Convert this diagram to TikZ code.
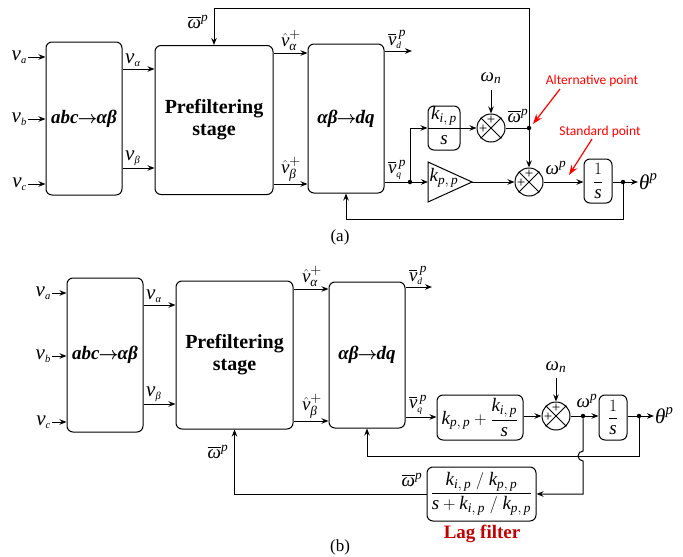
\documentclass[tikz,border=0pt]{standalone}
\usepackage{amsmath}
\usepackage{fontspec}
\setmainfont{Liberation Serif}
\newfontfamily\annfont{Carlito}
\usetikzlibrary{arrows.meta}
\newcommand\Mv{\textit{v}}
\newcommand\Mw{\textit{ω}}
\newcommand\Mth{\textit{θ}}
\newcommand\Mal{\textit{α}}
\newcommand\Mbe{\textit{β}}
\newcommand\Mk{\textit{k}}
\newcommand\Ms{\textit{s}}
\newcommand\Mp{\textit{p}}
\newcommand\Ss[1]{\scriptscriptstyle\textit{#1}}
\newcommand\kip{\Mk_{\textit{i},\,\textit{p}}}
\newcommand\kpp{\Mk_{\textit{p},\,\textit{p}}}
\newcommand\wbar{\overline{\Mw}^{\Mp}}
\newcommand\barr{$\boldsymbol{\rightarrow}$}
\newcommand\abcl{\textbf{\textit{abc}}\kern-1pt\barr\kern-1pt\textbf{\textit{αβ}}}
\newcommand\dql{\textbf{\textit{αβ}}\kern-1pt\barr\kern-1pt\textbf{\textit{dq}}}
\newcommand\pfl{\textbf{Prefiltering}\\\textbf{stage}}
\begin{document}
\begin{tikzpicture}[x=1pt,y=-1pt,
 blk/.style={draw, line width=1pt, rounded corners=6pt, inner sep=0pt},
 sumc/.style={draw, circle, line width=1pt, minimum size=28pt, inner sep=0pt},
 ln/.style={line width=1pt},
 arr/.style={line width=1pt, -{Stealth[length=7pt,width=5.5pt]}},
 lbl/.style={font=\fontsize{19}{21}\selectfont, inner sep=1pt},
 vlbl/.style={font=\fontsize{21}{23}\selectfont, inner sep=1pt},
 big/.style={font=\fontsize{19}{21}\selectfont, align=center},
 dot/.style={circle, fill, inner sep=0pt, minimum size=4.5pt},
 plus/.style={font=\fontsize{15}{15}\selectfont, inner sep=0pt},
 redarr/.style={red, line width=1.2pt, -{Stealth[length=10pt,width=7pt]}},
 redtxt/.style={red, font=\annfont\fontsize{13.5}{15}\selectfont, inner sep=0pt},
 captxt/.style={font=\fontsize{17}{19}\selectfont}]
\useasboundingbox (0,0) rectangle (683,557);

% ================= (a) =================
\node[blk, minimum width=76pt, minimum height=153pt, big] (abcA) at (84,118.5) {\abcl};
\node[blk, minimum width=118pt, minimum height=149pt, big, font=\fontsize{20}{22}\selectfont] (pfA) at (214,120) {\pfl};
\node[blk, minimum width=76pt, minimum height=149pt, big] (dqA) at (346,118.5) {\dql};

\node[vlbl, anchor=east] (vaA) at (28,57) {$\Mv_{\Ss{a}}$};
\node[vlbl, anchor=east] (vbA) at (28,119) {$\Mv_{\Ss{b}}$};
\node[vlbl, anchor=east] (vcA) at (28,184) {$\Mv_{\Ss{c}}$};
\draw[arr] (vaA.east) -- (abcA.west |- vaA.east);
\draw[arr] (vbA.east) -- (abcA.west |- vbA.east);
\draw[arr] (vcA.east) -- (abcA.west |- vcA.east);

\draw[arr] (abcA.east |- 0,69) -- (pfA.west |- 0,69);
\draw[arr] (abcA.east |- 0,168) -- (pfA.west |- 0,168);
\node[vlbl, anchor=south west] at (124,68) {$\Mv_{\Ss{\Mal}}$};
\node[vlbl, anchor=south west] at (124,167) {$\Mv_{\Ss{\Mbe}}$};

\draw[arr] (pfA.east |- 0,53) -- (dqA.west |- 0,53);
\draw[arr] (pfA.east |- 0,184) -- (dqA.west |- 0,184);
\node[lbl, anchor=south] at (291,52) {$\hat{\Mv}^{+}_{\Mal}$};
\node[lbl, anchor=south] at (291,183) {$\hat{\Mv}^{+}_{\Mbe}$};

\coordinate (vdA) at (412,51);
\draw[arr] (dqA.east |- vdA) -- (vdA);
\node[lbl, anchor=south] at (397,50) {$\overline{\Mv}^{\,\Mp}_{\Ss{d}}$};

\node[dot] (jq) at (410,182) {};
\draw[ln] (dqA.east |- jq) -- (jq);
\node[lbl, anchor=south] at (397,181) {$\overline{\Mv}^{\,\Mp}_{\Ss{q}}$};

% ki/s block
\node[blk, minimum width=32pt, minimum height=44pt] (kis) at (444,128) {};
\draw[ln] (kis.west) -- (kis.east);
\node[lbl] at (444,116) {$\kip$};
\node[lbl] at (444,140) {$\Ms$};
\draw[arr] (jq) |- (kis.west);

% gain triangle
\coordinate (triW) at (428,182);
\coordinate (triE) at (472,182);
\draw[ln] (428,162) -- (triE) -- (428,202) -- cycle;
\node[lbl] at (444,178) {$\kpp$};
\draw[arr] (jq) -- (triW);

% sum 1
\node[sumc] (s1) at (491,128) {};
\draw[ln] (s1.north east) -- (s1.south west) (s1.north west) -- (s1.south east);
\node[plus] at (491,120) {+};
\node[plus] at (483,129) {+};
\draw[arr] (kis.east) -- (s1.west);
\node[lbl] (wnA) at (491,78) {$\Mw_{\textit{n}}$};
\draw[arr] (491,90) -- (s1.north);

\node[dot] (jA) at (529,128) {};
\draw[ln] (s1.east) -- (jA);
\node[lbl] at (518,116) {$\wbar$};

\coordinate (topR) at (529,8);
\draw[arr] (jA) -- (topR) -| (pfA.north);
\node[lbl] at (198,22) {$\wbar$};

% sum 2
\node[sumc] (s2) at (529,182) {};
\draw[ln] (s2.north east) -- (s2.south west) (s2.north west) -- (s2.south east);
\node[plus] at (529,174) {+};
\node[plus] at (521,183) {+};
\draw[arr] (jA) -- (s2.north);
\draw[arr] (triE) -- (s2.west);

\node[blk, minimum width=28pt, minimum height=44pt, lbl] (intA) at (598,181) {$\dfrac{1}{\Ms}$};
\draw[arr] (s2.east) -- (intA.west |- s2.east);
\node[lbl] at (556,168) {$\Mw^{\Mp}$};

\node[dot] (jth) at (623,182) {};
\draw[ln] (intA.east |- jth) -- (jth);
\coordinate (thA) at (638,182);
\draw[arr] (jth) -- (thA);
\node[lbl, anchor=west, font=\fontsize{21}{23}\selectfont] at (thA) {$\Mth^{\Mp}$};

\coordinate (fbA) at (623,219);
\draw[arr] (jth) -- (fbA) -| (dqA.south);

% red annotations
\node[redtxt] (altp) at (592,81) {Alternative point};
\node[redtxt] (stdp) at (600,132) {Standard point};
\draw[redarr] (560,89) -- (533,124);
\draw[redarr] (592,139) -- (569,175);

\node[captxt] at (340,237) {(a)};

% ================= (b) =================
\node[blk, minimum width=76pt, minimum height=154pt, big] (abcB) at (105,355) {\abcl};
\node[blk, minimum width=117pt, minimum height=148pt, big, font=\fontsize{20}{22}\selectfont] (pfB) at (234.5,355) {\pfl};
\node[blk, minimum width=76pt, minimum height=146pt, big] (dqB) at (367,355) {\dql};

\node[vlbl, anchor=east] (vaB) at (52,293) {$\Mv_{\Ss{a}}$};
\node[vlbl, anchor=east] (vbB) at (52,356) {$\Mv_{\Ss{b}}$};
\node[vlbl, anchor=east] (vcB) at (52,422) {$\Mv_{\Ss{c}}$};
\draw[arr] (vaB.east) -- (abcB.west |- vaB.east);
\draw[arr] (vbB.east) -- (abcB.west |- vbB.east);
\draw[arr] (vcB.east) -- (abcB.west |- vcB.east);

\draw[arr] (abcB.east |- 0,305) -- (pfB.west |- 0,305);
\draw[arr] (abcB.east |- 0,404) -- (pfB.west |- 0,404);
\node[vlbl, anchor=south west] at (145,304) {$\Mv_{\Ss{\Mal}}$};
\node[vlbl, anchor=south west] at (145,403) {$\Mv_{\Ss{\Mbe}}$};

\draw[arr] (pfB.east |- 0,289) -- (dqB.west |- 0,289);
\draw[arr] (pfB.east |- 0,421) -- (dqB.west |- 0,421);
\node[lbl, anchor=south] at (312,288) {$\hat{\Mv}^{+}_{\Mal}$};
\node[lbl, anchor=south] at (312,420) {$\hat{\Mv}^{+}_{\Mbe}$};

\coordinate (vdB) at (432,287);
\draw[arr] (dqB.east |- vdB) -- (vdB);
\node[lbl, anchor=south] at (418,286) {$\overline{\Mv}^{\,\Mp}_{\Ss{d}}$};

\node[blk, minimum width=86pt, minimum height=45pt, lbl] (pi) at (480,417.5) {$\kpp+\dfrac{\kip}{\Ms}$};
\draw[arr] (dqB.east |- 0,417) -- (pi.west |- 0,417);
\node[lbl, anchor=south] at (418,416) {$\overline{\Mv}^{\,\Mp}_{\Ss{q}}$};

\node[sumc] (s3) at (556,416) {};
\draw[ln] (s3.north east) -- (s3.south west) (s3.north west) -- (s3.south east);
\node[plus] at (556,408) {+};
\node[plus] at (548,417) {+};
\draw[arr] (pi.east |- s3.west) -- (s3.west);
\node[lbl] at (556,367) {$\Mw_{\textit{n}}$};
\draw[arr] (556,378) -- (s3.north);

\node[dot] (jw) at (583,416) {};
\draw[ln] (s3.east) -- (jw);
\node[blk, minimum width=28pt, minimum height=45pt, lbl] (intB) at (613,417.5) {$\dfrac{1}{\Ms}$};
\draw[arr] (jw) -- (intB.west |- jw);
\node[lbl] at (587,401) {$\Mw^{\Mp}$};

\node[dot] (jth2) at (639,416) {};
\draw[ln] (intB.east |- jth2) -- (jth2);
\coordinate (thB) at (654,416);
\draw[arr] (jth2) -- (thB);
\node[lbl, anchor=west, font=\fontsize{21}{23}\selectfont] at (thB) {$\Mth^{\Mp}$};

\coordinate (fbB) at (639,456);
\draw[arr] (jth2) -- (fbB) -| (dqB.south);

% lag filter
\node[blk, minimum width=109pt, minimum height=54pt, lbl] (lag) at (481.5,494) {$\dfrac{\kip\;/\;\kpp}{\Ms+\kip\;/\;\kpp}$};
\coordinate (lagR) at (583,494);
\draw[arr] (jw) -- (583,451) arc[start angle=-90, end angle=-270, radius=5] -- (lagR) -- (lag.east);
\node[lbl] at (412,480) {$\wbar$};
\coordinate (lagL) at (234.5,494);
\draw[arr] (lag.west) -- (lagL) -- (pfB.south);
\node[lbl] at (218,452) {$\wbar$};
\node[font=\bfseries\fontsize{19}{21}\selectfont, text=red!75!black] at (482,534) {Lag filter};

\node[captxt] at (340,547) {(b)};
\end{tikzpicture}
\end{document}
